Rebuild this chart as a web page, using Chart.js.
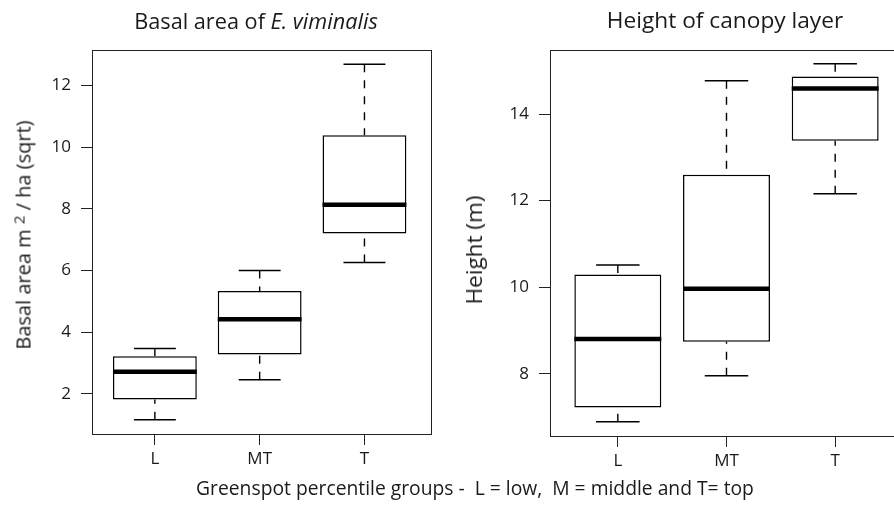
<!DOCTYPE html>
<html><head><meta charset="utf-8">
<script src="https://cdn.jsdelivr.net/npm/chart.js@4.4.1/dist/chart.umd.min.js"></script>
<style>
html,body{margin:0;padding:0;background:#fff;}
body{width:894px;height:509px;overflow:hidden;position:relative;font-family:"Open Sans",sans-serif;color:#1a1a1a;}
.cw{position:absolute;top:0;height:509px;}
.t{position:absolute;white-space:pre;line-height:24px;transform:translateX(-50%);}
.yt{position:absolute;white-space:pre;line-height:24px;transform:translate(-50%,-50%) rotate(-90deg);}
</style></head><body>
<div class="cw" style="left:0;width:447px"><canvas id="cA" width="447" height="509"></canvas></div>
<div class="cw" style="left:447px;width:470px"><canvas id="cB" width="470" height="509"></canvas></div>
<div class="t" id="tA" style="left:256px;top:8.5px;font-size:21.7px">Basal area of <i>E. viminalis</i></div>
<div class="t" id="tB" style="left:725px;top:8.3px;font-size:22.7px">Height of canopy layer</div>
<div class="yt" id="yA" style="left:24.2px;top:235px;font-size:20px">Basal area m <span style="font-size:15px;position:relative;top:-6px">2</span> / ha (sqrt)</div>
<div class="yt" id="yB" style="left:474.3px;top:250px;font-size:22.5px">Height (m)</div>
<div class="t" id="xl" style="left:475px;top:475.5px;font-size:19.3px">Greenspot percentile groups -  L = low,  M = middle and T= top</div>
<script>
const groups = ['L', 'MT', 'T'];

const basalMin = [1.16, 2.46, 6.26];
const basalQ1  = [1.82, 3.28, 7.20];
const basalMed = [2.72, 4.42, 8.13];
const basalQ3  = [3.22, 5.34, 10.39];
const basalMax = [3.47, 6.00, 12.69];
const basalTicks = [2, 4, 6, 8, 10, 12];

const heightMin = [6.89, 7.95, 12.16];
const heightQ1  = [7.22, 8.74, 13.38];
const heightMed = [8.80, 9.96, 14.59];
const heightQ3  = [10.29, 12.60, 14.87];
const heightMax = [10.51, 14.77, 15.16];
const heightTicks = [8, 10, 12, 14];

const FONT = '"Open Sans", sans-serif';
const INK = '#1a1a1a';

function seg(f) {
  const pts = [];
  groups.forEach((g, i) => { f(i).forEach(p => pts.push(p)); pts.push({x: i + 0.5, y: null}); });
  return pts;
}
function lineDs(data, width, dash, order) {
  return {type: 'line', data, borderColor: '#000', borderWidth: width, borderDash: dash,
    borderCapStyle: 'butt', pointRadius: 0, fill: false, spanGaps: false, tension: 0, order};
}
function boxDatasets(mn, q1, md, q3, mx) {
  return [
    {type: 'bar', data: groups.map((g, i) => ({x: i, y: [q1[i], q3[i]]})),
      backgroundColor: '#fff', borderColor: '#000', borderWidth: 1.5, borderSkipped: false,
      barPercentage: 0.8, categoryPercentage: 1, order: 2},
    lineDs(seg(i => [{x: i, y: mx[i]}, {x: i, y: q3[i]}, {x: i, y: null}, {x: i, y: mn[i]}, {x: i, y: q1[i]}]), 1.4, [8, 8], 3),
    lineDs(seg(i => [{x: i - 0.2, y: mx[i]}, {x: i + 0.2, y: mx[i]}, {x: i, y: null}, {x: i - 0.2, y: mn[i]}, {x: i + 0.2, y: mn[i]}]), 1.5, [], 1),
    lineDs(seg(i => [{x: i - 0.4, y: md[i]}, {x: i + 0.4, y: md[i]}]), 4.5, [], 0)
  ];
}
const framePlugin = {
  id: 'frame',
  afterDraw(chart) {
    const {ctx, chartArea: a} = chart;
    ctx.save();
    ctx.strokeStyle = '#222';
    ctx.lineWidth = 1;
    const l = Math.round(a.left) + 0.5, t = Math.round(a.top) + 0.5;
    const r = Math.round(a.right) + 0.5, b = Math.round(a.bottom) + 0.5;
    ctx.strokeRect(l, t, r - l, b - t);
    ctx.restore();
  }
};
function makeChart(id, ds, yMin, yMax, yTicks, xMin, xMax, axisW, axisH, pad) {
  const grid = {drawOnChartArea: false, drawTicks: true, tickLength: 11, color: '#222', lineWidth: 1, offset: false};
  return new Chart(document.getElementById(id), {
    type: 'bar',
    data: {datasets: ds},
    options: {
      responsive: false, animation: false, devicePixelRatio: 1, events: [],
      layout: {padding: pad},
      plugins: {legend: {display: false}, tooltip: {enabled: false}},
      scales: {
        x: {type: 'linear', min: xMin, max: xMax, offset: false, bounds: 'data',
          afterBuildTicks: s => { s.ticks = groups.map((g, i) => ({value: i})); },
          afterFit: s => { s.height = axisH; },
          ticks: {callback: v => groups[v], font: {family: FONT, size: 17}, color: INK, padding: 4, maxRotation: 0, autoSkip: false},
          grid, border: {display: false}},
        y: {type: 'linear', min: yMin, max: yMax, beginAtZero: false, bounds: 'data',
          afterBuildTicks: s => { s.ticks = yTicks.map(v => ({value: v})); },
          afterFit: s => { s.width = axisW; },
          ticks: {font: {family: FONT, size: 17}, color: INK, padding: 10},
          grid, border: {display: false}}
      }
    },
    plugins: [framePlugin]
  });
}
makeChart('cA', boxDatasets(basalMin, basalQ1, basalMed, basalQ3, basalMax),
  0.70, 13.15, basalTicks, -0.60, 2.635, 92, 75,
  {left: 0, top: 50, right: 16, bottom: 0});
makeChart('cB', boxDatasets(heightMin, heightQ1, heightMed, heightQ3, heightMax),
  6.56, 15.48, heightTicks, -0.624, 2.624, 103, 73,
  {left: 0, top: 50, right: 14, bottom: 0});
</script>
</body></html>
